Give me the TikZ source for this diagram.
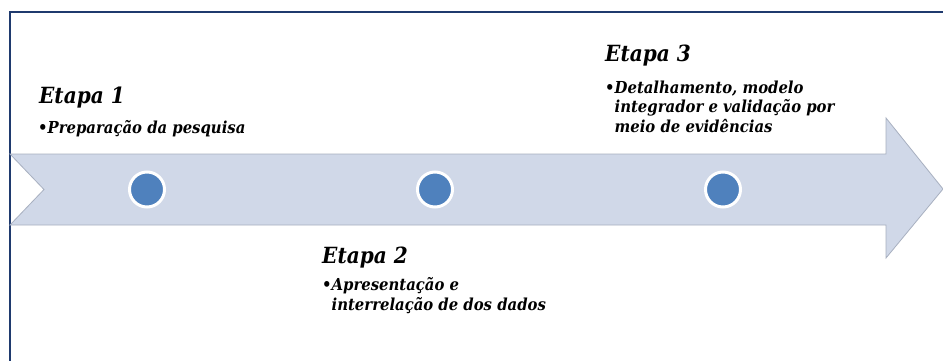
\documentclass[tikz,border=0pt]{standalone}
\usepackage{fontspec}
\setmainfont{DejaVu Serif Condensed}
\definecolor{framecol}{HTML}{1F3A6E}
\definecolor{bandfill}{HTML}{D0D8E8}
\definecolor{bandedge}{HTML}{A8B0C0}
\definecolor{dotblue}{HTML}{4F81BD}
\tikzset{
  title/.style={anchor=base west, inner sep=0pt, font=\fontsize{22.3}{26}\selectfont\bfseries\itshape},
  item/.style={anchor=base west, inner sep=0pt, align=left, font=\fontsize{16.5}{19.5}\selectfont\bfseries\itshape},
  dot/.style={circle, fill=dotblue, draw=white, line width=3pt, minimum size=35pt, inner sep=0pt},
}
\begin{document}
\begin{tikzpicture}[x=1pt,y=-1pt]
\useasboundingbox (0,0) rectangle (943,361);
\fill[white] (0,0) rectangle (943,361);
% frame
\draw[framecol, line width=2pt] (10,380) -- (10,12) -- (960,12);
% band arrow
\draw[fill=bandfill, draw=bandedge, line width=0.8pt]
  (10,154) -- (886,154) -- (886,118) -- (943,189) -- (886,258) -- (886,225) -- (10,225) -- (44,189.5) -- cycle;
% dots
\node[dot] (d1) at (147,189.5) {};
\node[dot] (d2) at (435,189.5) {};
\node[dot] (d3) at (723,189.5) {};
% texts
\node[title] (t1) at (39,103) {Etapa 1};
\node[item] (i1) at (38,133) {•Preparação da pesquisa};
\node[title] (t2) at (322,263) {Etapa 2};
\node[item] (i2) at (322,310) {•Apresentação e\\\phantom{•}interrelação de dos dados};
\node[title] (t3) at (605,62) {Etapa 3};
\node[item] (i3) at (605,132) {•Detalhamento, modelo\\\phantom{•}integrador e validação por\\\phantom{•}meio de evidências};
\end{tikzpicture}
\end{document}
